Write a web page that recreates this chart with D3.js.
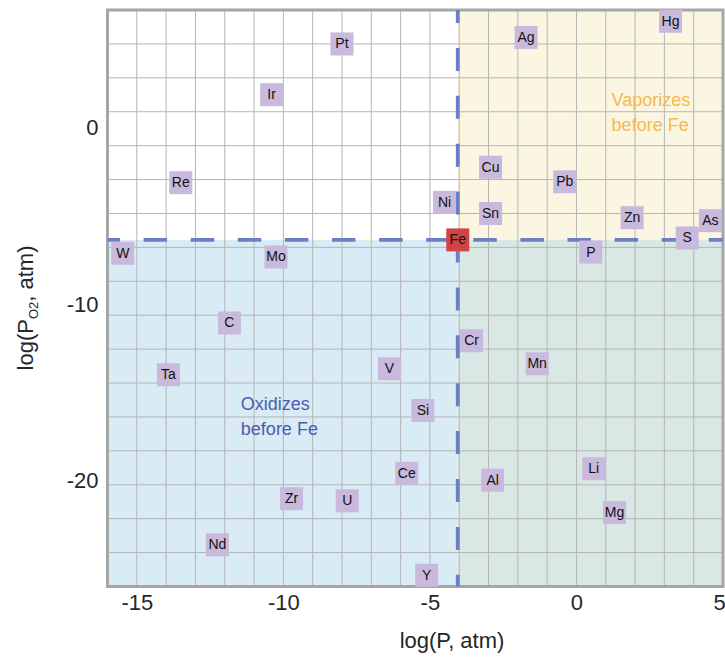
<!DOCTYPE html>
<html>
<head>
<meta charset="utf-8">
<script src="https://cdn.jsdelivr.net/npm/d3@7"></script>
<style>
  html, body { margin: 0; padding: 0; background: #ffffff; }
  svg { display: block; }
  text { font-family: "Liberation Sans", Arial, Helvetica, sans-serif; }
</style>
</head>
<body>
<svg id="chart" width="725" height="658"></svg>
<script>
// Element volatility vs. oxidation: vapour pressure (x) against O2 partial pressure (y)
const elements = ["Pt", "Ir", "Re", "Ag", "Hg", "Cu", "Pb", "Ni", "Sn", "Zn", "As", "S", "P",
                  "W", "Mo", "C", "Ta", "Cr", "V", "Mn", "Si", "Zr", "U", "Nd", "Ce", "Al", "Li", "Mg", "Y"];
const logP   = [-8.0, -10.4, -13.5, -1.72, 3.21, -2.93, -0.40, -4.50, -2.93, 1.90, 4.57, 3.78, 0.49,
                -15.48, -10.25, -11.84, -13.92, -3.58, -6.38, -1.34, -5.24, -9.72, -7.82, -12.25, -5.79, -2.86, 0.59, 1.30, -5.11];
const logPO2 = [4.77, 1.89, -3.11, 5.14, 6.06, -2.23, -3.06, -4.23, -4.86, -5.10, -5.27, -6.25, -7.05,
                -7.12, -7.33, -11.08, -14.02, -12.09, -13.68, -13.40, -16.05, -21.06, -21.18, -23.68, -19.62, -20.01, -19.36, -21.85, -25.41];

// Reference element: iron
const refName = "Fe";
const refLogP = -4.05;
const refLogPO2 = -6.36;

// Axis extents and ticks
const xDomain = [-16, 5];
const yDomain = [-26.05, 6.7];
const xTicks = [-15, -10, -5, 0, 5];
const yTicks = [0, -10, -20];
const gridRows = 17;

const regionLabels = [
  { lines: ["Vaporizes", "before Fe"], color: "#f6b94c", x: 1.2, y: 1.25 },
  { lines: ["Oxidizes", "before Fe"], color: "#4a5cae", x: -11.45, y: -16.05 }
];

const svg = d3.select("#chart");
const plotL = 107.5, plotR = 723, plotT = 10, plotB = 586.5;

const x = d3.scaleLinear().domain(xDomain).range([plotL, plotR]);
const y = d3.scaleLinear().domain(yDomain).range([plotB, plotT]);

// Shaded regions split at iron's position
const fx = x(refLogP), fy = y(refLogPO2);
const bg = svg.append("g");
bg.append("rect").attr("x", plotL).attr("y", plotT).attr("width", plotR - plotL).attr("height", plotB - plotT).attr("fill", "#ffffff");
bg.append("rect").attr("x", fx).attr("y", plotT).attr("width", plotR - fx).attr("height", fy - plotT).attr("fill", "#faf6e2");
bg.append("rect").attr("x", plotL).attr("y", fy).attr("width", fx - plotL).attr("height", plotB - fy).attr("fill", "#d9ebf5");
bg.append("rect").attr("x", fx).attr("y", fy).attr("width", plotR - fx).attr("height", plotB - fy).attr("fill", "#d9e8e5");

// Grid: one column per unit of log P, equal rows in log PO2
const grid = svg.append("g").attr("stroke", "#b5b5b5").attr("stroke-width", 1);
const xGrid = d3.range(xDomain[0] + 1, xDomain[1]);
grid.selectAll("line.v").data(xGrid).join("line").attr("class", "v")
  .attr("x1", d => x(d)).attr("x2", d => x(d)).attr("y1", plotT).attr("y2", plotB);
const yGrid = d3.range(1, gridRows).map(i => yDomain[0] + i * (yDomain[1] - yDomain[0]) / gridRows);
grid.selectAll("line.h").data(yGrid).join("line").attr("class", "h")
  .attr("x1", plotL).attr("x2", plotR).attr("y1", d => y(d)).attr("y2", d => y(d));

// Frame
svg.append("rect").attr("x", plotL).attr("y", plotT).attr("width", plotR - plotL).attr("height", plotB - plotT)
  .attr("fill", "none").attr("stroke", "#a6a6a6").attr("stroke-width", 3);

// Dashed boundaries through iron
const dash = svg.append("g").attr("stroke", "#6b7fc3").attr("stroke-width", 3.8).attr("fill", "none");
dash.append("line").attr("x1", plotL).attr("x2", plotR).attr("y1", fy).attr("y2", fy)
  .attr("stroke-dasharray", "23.5,23.6").attr("stroke-dashoffset", 11);
dash.append("line").attr("x1", fx).attr("x2", fx).attr("y1", plotT).attr("y2", plotB)
  .attr("stroke-dasharray", "23,24.9").attr("stroke-dashoffset", 10);

// Region captions
regionLabels.forEach(r => {
  const t = svg.append("text").attr("x", x(r.x)).attr("y", y(r.y))
    .attr("fill", r.color).attr("font-size", 18);
  r.lines.forEach((s, i) => t.append("tspan").attr("x", x(r.x)).attr("dy", i === 0 ? 0 : 24.7).text(s));
});

// Element markers
const box = 23;
const data = elements.map((e, i) => ({ name: e, px: logP[i], py: logPO2[i], fill: "#c9b9dc" }));
data.push({ name: refName, px: refLogP, py: refLogPO2, fill: "#d04444" });

const marks = svg.append("g").selectAll("g").data(data).join("g")
  .attr("transform", d => `translate(${x(d.px)},${y(d.py)})`);
marks.append("rect").attr("x", -box / 2).attr("y", -box / 2).attr("width", box).attr("height", box)
  .attr("fill", d => d.fill);
marks.append("text").attr("text-anchor", "middle").attr("y", 4.5)
  .attr("font-size", 14).attr("fill", "#111").text(d => d.name);

// Axes (plain hyphen-minus in tick labels)
const plain = d => String(d);
const xAxis = svg.append("g").attr("transform", `translate(0,${plotB})`)
  .call(d3.axisBottom(x).tickValues(xTicks).tickSize(0).tickPadding(8).tickFormat(plain));
const yAxis = svg.append("g").attr("transform", `translate(${plotL},0)`)
  .call(d3.axisLeft(y).tickValues(yTicks).tickSize(0).tickPadding(9).tickFormat(plain));
[xAxis, yAxis].forEach(a => {
  a.select(".domain").remove();
  a.selectAll("text").attr("font-size", 22).attr("fill", "#262626")
    .attr("font-family", "'Liberation Sans', Arial, sans-serif");
});
// keep the last x label inside the canvas edge
xAxis.selectAll(".tick").filter(d => d === xDomain[1]).select("text").attr("dx", -4);

// Axis titles
svg.append("text").attr("x", 452).attr("y", 648).attr("text-anchor", "middle")
  .attr("font-size", 22).attr("fill", "#262626").text("log(P, atm)");

const yt = svg.append("text").attr("transform", "translate(33,308) rotate(-90)")
  .attr("text-anchor", "middle").attr("font-size", 22).attr("fill", "#262626");
yt.append("tspan").text("log(P");
yt.append("tspan").attr("font-size", 13).attr("dy", 5).text("O2");
yt.append("tspan").attr("dy", -5).text(", atm)");
</script>
</body>
</html>
